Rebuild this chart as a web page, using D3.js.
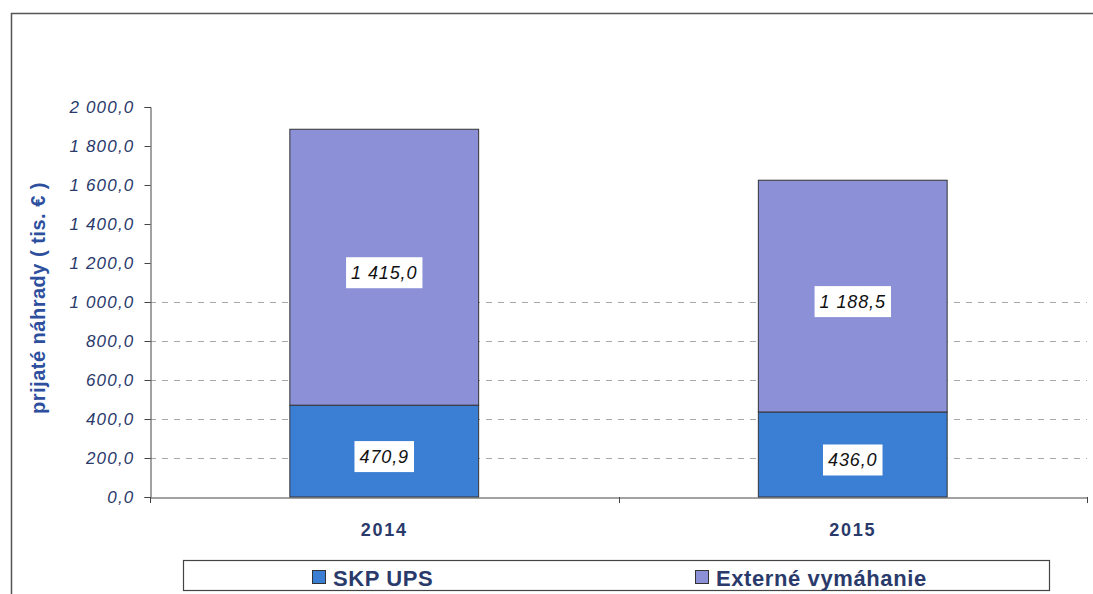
<!DOCTYPE html>
<html>
<head>
<meta charset="utf-8">
<script src="https://cdn.jsdelivr.net/npm/d3@7"></script>
<style>
  body { margin: 0; background: #fff; }
  svg { display: block; }
</style>
</head>
<body>
<svg id="chart"></svg>
<script>
// chart data
var years = ["2014", "2015"];
var skpUps = [470.9, 436.0];
var externe = [1415.0, 1188.5];
var seriesNames = ["SKP UPS", "Externé vymáhanie"];
var yTicks = [0, 200, 400, 600, 800, 1000, 1200, 1400, 1600, 1800, 2000];
var gridTicks = [200, 400, 600, 800, 1000];

var dimensions = {
    width: 1093,
    height: 594,
    margin: { top: 107, bottom: 97, left: 150, right: 6 }
}

var colors = ["#3b7fd4", "#8c91d7"];
var navy = "#2a3a6b";

var skLocale = d3.formatLocale({ decimal: ",", thousands: " ", grouping: [3], currency: ["", " €"] });
var fmt = skLocale.format(",.1f");

var svg = d3.select("#chart")
            .attr("width", dimensions.width)
            .attr("height", dimensions.height)
            .style("font-family", "Arial, 'Liberation Sans', sans-serif")

// outer frame
svg.append("rect")
   .attr("x", 11.5)
   .attr("y", 13.5)
   .attr("width", dimensions.width + 20)
   .attr("height", dimensions.height + 20)
   .attr("fill", "none")
   .attr("stroke", "#555")
   .attr("stroke-width", 1.5)

var plotBottom = dimensions.height - dimensions.margin.bottom
var plotRight = dimensions.width - dimensions.margin.right

var xScale = d3.scaleBand()
               .domain(years)
               .range([dimensions.margin.left, plotRight])
               .paddingInner(0.597)
               .paddingOuter(0.2985)

var yScale = d3.scaleLinear()
               .domain([0, 2000])
               .range([plotBottom, dimensions.margin.top])

// dashed grid
svg.append("g")
   .selectAll("line")
   .data(gridTicks)
   .enter()
   .append("line")
   .attr("x1", dimensions.margin.left)
   .attr("x2", plotRight)
   .attr("y1", d => Math.round(yScale(d)) + 0.5)
   .attr("y2", d => Math.round(yScale(d)) + 0.5)
   .attr("stroke", "#a8a8a8")
   .attr("stroke-dasharray", "6,6")

// stacked bars
var stackData = years.map((y, i) => ({ year: y, skp: skpUps[i], ext: externe[i] }))
var stack = d3.stack().keys(["skp", "ext"])(stackData)

var layers = svg.append("g")
                .selectAll("g")
                .data(stack)
                .enter()
                .append("g")
                .attr("fill", (d, i) => colors[i])

layers.selectAll("rect")
      .data(d => d)
      .enter()
      .append("rect")
      .attr("x", d => xScale(d.data.year))
      .attr("y", d => yScale(d[1]))
      .attr("width", xScale.bandwidth())
      .attr("height", d => yScale(d[0]) - yScale(d[1]))
      .attr("stroke", "#333")
      .attr("stroke-width", 1)

// value labels
var labels = svg.append("g")
var labelData = []
stack.forEach(layer => layer.forEach(d => labelData.push({ year: d.data.year, lo: d[0], hi: d[1], v: d[1] - d[0] })))

var labelGroups = labels.selectAll("g")
                        .data(labelData)
                        .enter()
                        .append("g")
                        .attr("transform", d => `translate(${xScale(d.year) + xScale.bandwidth() / 2}, ${(yScale(d.lo) + yScale(d.hi)) / 2 + 5})`)

labelGroups.append("text")
           .attr("text-anchor", "middle")
           .attr("dy", "0.36em")
           .style("font-size", "18px")
           .style("font-style", "italic")
           .style("letter-spacing", "0.9px")
           .attr("fill", "#111")
           .text(d => fmt(d.v))

labelGroups.each(function() {
    var g = d3.select(this)
    var bb = g.select("text").node().getBBox()
    g.insert("rect", "text")
     .attr("x", bb.x - 5)
     .attr("y", -15)
     .attr("width", bb.width + 10)
     .attr("height", 31)
     .attr("fill", "#fff")
})

// y axis
var yAxisGen = d3.axisLeft(yScale)
                 .tickValues(yTicks)
                 .tickSize(6)
                 .tickFormat(d => fmt(d))

var yAxis = svg.append("g")
               .attr("transform", `translate(${dimensions.margin.left + 0.5}, 0)`)
               .call(yAxisGen)

yAxis.selectAll("path, line").attr("stroke", "#444")
yAxis.selectAll("text")
     .attr("x", -16)
     .attr("fill", navy)
     .style("font-size", "17px")
     .style("font-style", "italic")
     .style("letter-spacing", "1.2px")
     .style("font-family", "Arial, 'Liberation Sans', sans-serif")

// x axis
var xAxisGen = d3.axisBottom(xScale).tickSize(0).tickSizeOuter(0)
var xAxis = svg.append("g")
               .attr("transform", `translate(0, ${plotBottom + 0.5})`)
               .call(xAxisGen)

xAxis.select(".domain").attr("stroke", "#444")
xAxis.selectAll("text")
     .attr("y", 26)
     .attr("fill", navy)
     .style("font-size", "18px")
     .style("font-weight", "bold")
     .style("letter-spacing", "1.8px")
     .style("font-family", "Arial, 'Liberation Sans', sans-serif")

// category separators on x axis
var sepX = [dimensions.margin.left, (xScale("2014") + xScale("2015") + xScale.bandwidth()) / 2, plotRight]
svg.append("g")
   .selectAll("line")
   .data(sepX)
   .enter()
   .append("line")
   .attr("x1", d => Math.round(d) + 0.5)
   .attr("x2", d => Math.round(d) + 0.5)
   .attr("y1", plotBottom)
   .attr("y2", plotBottom + 6)
   .attr("stroke", "#444")

// y title
svg.append("text")
   .attr("transform", `translate(45, ${(dimensions.margin.top + plotBottom) / 2 - 4}) rotate(-90)`)
   .attr("text-anchor", "middle")
   .attr("fill", "#2d4f9e")
   .style("font-family", "Arial, 'Liberation Sans', sans-serif")
   .style("font-size", "20px")
   .style("font-weight", "bold")
   .style("letter-spacing", "0.5px")
   .text("prijaté náhrady ( tis.  € )")

// legend
var legend = svg.append("g")
legend.append("rect")
      .attr("x", 183.5)
      .attr("y", 560.5)
      .attr("width", 866)
      .attr("height", 30)
      .attr("fill", "#fff")
      .attr("stroke", "#444")
      .attr("stroke-width", 1.2)

var legendX = [312, 695]
var items = legend.selectAll("g")
                  .data(seriesNames)
                  .enter()
                  .append("g")
                  .attr("transform", (d, i) => `translate(${legendX[i]}, 578)`)

items.append("rect")
     .attr("x", 0.5)
     .attr("y", -7.5)
     .attr("width", 13)
     .attr("height", 13)
     .attr("fill", (d, i) => colors[i])
     .attr("stroke", "#333")

items.append("text")
     .attr("x", 21)
     .attr("dy", "0.36em")
     .attr("fill", navy)
     .style("font-size", "22px")
     .style("font-weight", "bold")
     .style("letter-spacing", "0.6px")
     .style("font-family", "Arial, 'Liberation Sans', sans-serif")
     .text(d => d)
</script>
</body>
</html>
